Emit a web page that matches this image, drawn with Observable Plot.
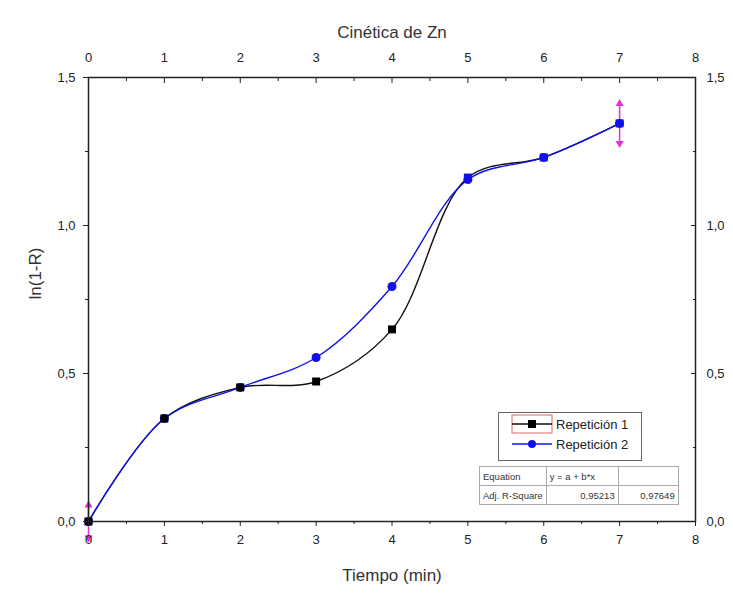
<!DOCTYPE html>
<html>
<head>
<meta charset="utf-8">
<script src="https://cdn.jsdelivr.net/npm/d3@7"></script>
<script src="https://cdn.jsdelivr.net/npm/@observablehq/plot@0.6"></script>
<style>
  html, body { margin: 0; padding: 0; background: #fff; }
  #wrap { position: relative; width: 733px; height: 595px; font-family: "Liberation Sans", Arial, sans-serif; }
  #legend { position: absolute; left: 498px; top: 412px; width: 144px; height: 49px; border: 1px solid #666; background: #fff; box-sizing: border-box; }
  .lrow { position: absolute; left: 0; height: 20px; display: flex; align-items: center; font-size: 13px; color: #222; }
  #tbl { position: absolute; left: 479px; top: 466px; border-collapse: collapse; font-size: 9.5px; color: #333; background: #fff; border: 1.5px solid #888; table-layout: fixed; }
  #tbl td { border: 1px solid #aaa; padding: 0 3px; height: 18px; white-space: nowrap; overflow: hidden; }
</style>
</head>
<body>
<div id="wrap"></div>
<script>
// ---- data ----
const time = [0, 1, 2, 3, 4, 5, 6, 7];
const rep1 = [0, 0.348, 0.453, 0.473, 0.649, 1.162, 1.23, 1.345];
const rep2 = [0, 0.348, 0.453, 0.554, 0.794, 1.155, 1.23, 1.345];
const seriesNames = ["Repetición 1", "Repetición 2"];
const errX = [0, 7];
const errY = [0, 1.345];
const errSize = [0.055, 0.067];
const xTicks = [0, 1, 2, 3, 4, 5, 6, 7, 8];
const xMinor = [0.5, 1.5, 2.5, 3.5, 4.5, 5.5, 6.5, 7.5];
const yTicks = [0, 0.5, 1.0, 1.5];
const yMinor = [0.25, 0.75, 1.25];
const titleText = "Cinética de Zn";
const xLabel = "Tiempo (min)";
const yLabel = "ln(1-R)";
const tableRows = [["Equation", "y = a + b*x", ""], ["Adj. R-Square", "0,95213", "0,97649"]];

const d1 = time.map((t, i) => ({t, v: rep1[i], s: seriesNames[0]}));
const d2 = time.map((t, i) => ({t, v: rep2[i], s: seriesNames[1]}));
const errs = errX.map((x, i) => ({x, y: errY[i], lo: errY[i] - errSize[i], hi: errY[i] + errSize[i]}));
const fmt = d => d.toFixed(1).replace(".", ",");
const blue = "#1010ee", magenta = "#e030e0";

const plot = Plot.plot({
  width: 733, height: 595,
  marginLeft: 88, marginRight: 38, marginTop: 77, marginBottom: 74,
  x: {domain: [0, 8]},
  y: {domain: [0, 1.5]},
  style: {fontFamily: "'Liberation Sans', Arial, sans-serif", fontSize: "13px", color: "#222", background: "#fff"},
  marks: [
    Plot.line(d1, {x: "t", y: "v", curve: "catmull-rom", stroke: "#111", strokeWidth: 1.4}),
    Plot.line(d2, {x: "t", y: "v", curve: "catmull-rom", stroke: blue, strokeWidth: 1.4}),
    Plot.ruleX(errs, {x: "x", y1: "lo", y2: "hi", stroke: magenta, strokeWidth: 1.5}),
    Plot.dot(errs, {x: "x", y: "hi", symbol: "triangle", fill: magenta, r: 3}),
    Plot.dot(errs, {x: "x", y: "lo", symbol: "triangle", fill: magenta, r: 3, rotate: 180}),
    Plot.dot(d2, {x: "t", y: "v", fill: blue, r: 4.5}),
    Plot.dot(d1, {x: "t", y: "v", symbol: "square", r: 4.5, fill: d => d.t >= 5 ? blue : "#000"}),
    Plot.frame({stroke: "#222", strokeWidth: 1.5}),
    // bottom axis
    Plot.axisX({anchor: "bottom", ticks: xTicks, tickSize: 5, tickPadding: 8, label: null}),
    Plot.axisX({anchor: "bottom", ticks: xMinor, tickSize: 3, text: null, label: null}),
    // top axis
    Plot.axisX({anchor: "top", ticks: xTicks, tickSize: 0, tickPadding: 16, label: null}),
    Plot.axisX({anchor: "top", ticks: xTicks, tickSize: -5, text: null, label: null}),
    Plot.axisX({anchor: "top", ticks: xMinor, tickSize: -3, text: null, label: null}),
    // left axis
    Plot.axisY({anchor: "left", ticks: yTicks, tickSize: 5, tickPadding: 8, tickFormat: fmt, label: null}),
    Plot.axisY({anchor: "left", ticks: yMinor, tickSize: 3, text: null, label: null}),
    // right axis
    Plot.axisY({anchor: "right", ticks: yTicks, tickSize: 0, tickPadding: 11, tickFormat: fmt, label: null}),
    Plot.axisY({anchor: "right", ticks: yTicks, tickSize: -5, text: null, label: null}),
    Plot.axisY({anchor: "right", ticks: yMinor, tickSize: -3, text: null, label: null}),
    // titles
    Plot.text([titleText], {frameAnchor: "top", dy: -52, fontSize: 17, fill: "#333"}),
    Plot.text([xLabel], {frameAnchor: "bottom", dy: 59, fontSize: 17, fill: "#333"}),
    Plot.text([yLabel], {frameAnchor: "left", dx: -53, rotate: -90, fontSize: 17, fill: "#333"})
  ]
});

const wrap = document.getElementById("wrap");
wrap.appendChild(plot);

// legend overlay
const legend = document.createElement("div");
legend.id = "legend";
const sym = (i) => i === 0
  ? `<svg width="54" height="20"><rect x="13" y="1" width="40" height="18" fill="none" stroke="#d66" stroke-width="1"/><line x1="13" y1="10" x2="53" y2="10" stroke="#111" stroke-width="1.5"/><rect x="29" y="6" width="8" height="8" fill="#000"/></svg>`
  : `<svg width="54" height="20"><line x1="13" y1="10" x2="53" y2="10" stroke="${blue}" stroke-width="1.5"/><circle cx="33" cy="10" r="4" fill="${blue}"/></svg>`;
seriesNames.forEach((n, i) => {
  const r = document.createElement("div");
  r.className = "lrow";
  r.style.top = (i === 0 ? 10 : 30) - 9 + "px";
  r.innerHTML = sym(i) + `<span style="margin-left:3px">${n}</span>`;
  legend.appendChild(r);
});
wrap.appendChild(legend);

// stats table
const tbl = document.createElement("table");
tbl.id = "tbl";
const colW = [58, 72, 60];
tableRows.forEach((row, ri) => {
  const tr = document.createElement("tr");
  row.forEach((c, ci) => {
    const td = document.createElement("td");
    td.textContent = c;
    td.style.width = (colW[ci] - 7) + "px";
    td.style.textAlign = ri === 1 && ci > 0 ? "right" : "left";
    tr.appendChild(td);
  });
  tbl.appendChild(tr);
});
wrap.appendChild(tbl);
</script>
</body>
</html>
